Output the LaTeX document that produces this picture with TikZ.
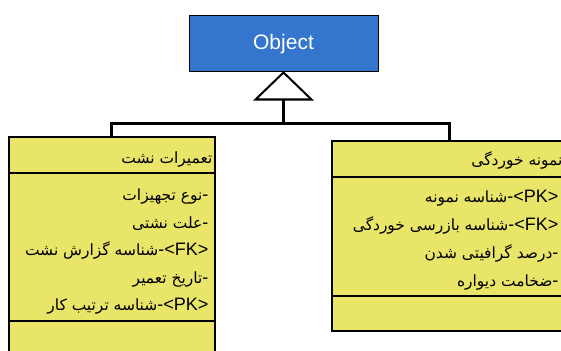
\documentclass[tikz,border=0pt]{standalone}
\usepackage{fontspec}
\setmainfont{Liberation Sans}
\newfontfamily\arabicfont[Script=Arabic,Scale=0.86]{DejaVu Sans}
\TeXXeTstate=1
\usetikzlibrary{calc}
\definecolor{objblue}{RGB}{52,118,206}
\definecolor{classyellow}{RGB}{232,229,104}
\newcommand{\fa}[1]{{\arabicfont #1}}

\begin{document}
\begin{tikzpicture}[x=1pt,y=-1pt]
\tikzset{classbox/.style={fill=classyellow,draw=black,line width=1.6pt,inner sep=0pt,anchor=north west}}
\tikzset{link/.style={draw=black,line width=3pt}}
\tikzset{sep/.style={draw=black,line width=1.6pt}}
\tikzset{attr/.style={anchor=base east,inner sep=0pt,font=\fontsize{18}{21}\selectfont}}
\useasboundingbox (0,0) rectangle (561,350);
\clip (0,0) rectangle (561,350);

% base class and the open arrow head under it
\node[fill=objblue,draw=black,line width=1pt,minimum width=189pt,minimum height=56pt,
      text=white,font=\fontsize{21}{25}\selectfont] (obj) at (283.5,44) {Object};
\draw[fill=white,line width=2pt] (obj.south) -- ++(-28,27) -- ++(56,0) -- cycle;
\coordinate (tri) at ($(obj.south)+(0,27)$);
\coordinate (bus) at (283.5,123);

% subclasses
\node[classbox,minimum width=206pt,minimum height=240pt] (nasht) at (8,136) {};
\node[classbox,minimum width=235pt,minimum height=190pt] (khord) at (331,140) {};
\draw[sep] ($(nasht.north west)+(0,37)$) -- ($(nasht.north east)+(0,37)$);
\draw[sep] ($(nasht.north west)+(0,185)$) -- ($(nasht.north east)+(0,185)$);
\draw[sep] ($(khord.north west)+(0,37)$) -- ($(khord.north east)+(0,37)$);
\draw[sep] ($(khord.north west)+(0,156)$) -- ($(khord.north east)+(0,156)$);

\draw[link] (tri) -- (bus);
\draw[link] (nasht.north) |- (bus) -| (khord.north);

% left class
\node[attr] (nasht-t) at ($(nasht.north east)+(-3,27)$) {\beginR\fa{تعمیرات نشت}\endR};
\node[attr] (nasht-1) at ($(nasht.north east)+(-7,64.5)$) {\beginR-\fa{نوع تجهیزات}\endR};
\node[attr] (nasht-2) at ($(nasht.north east)+(-7,92)$) {\beginR-\fa{علت نشتی}\endR};
\node[attr] (nasht-3) at ($(nasht.north east)+(-7,119.5)$) {\beginR\beginL<FK>\endL-\fa{شناسه گزارش نشت}\endR};
\node[attr] (nasht-4) at ($(nasht.north east)+(-7,147)$) {\beginR-\fa{تاریخ تعمیر}\endR};
\node[attr] (nasht-5) at ($(nasht.north east)+(-7,174.5)$) {\beginR\beginL<PK>\endL-\fa{شناسه ترتیب کار}\endR};

% right class
\node[attr] (khord-t) at ($(khord.north east)+(-5,25)$) {\beginR\fa{نمونه خوردگی}\endR};
\node[attr] (khord-1) at ($(khord.north east)+(-9,62)$) {\beginR\beginL<PK>\endL-\fa{شناسه نمونه}\endR};
\node[attr] (khord-2) at ($(khord.north east)+(-9,90)$) {\beginR\beginL<FK>\endL-\fa{شناسه بازرسی خوردگی}\endR};
\node[attr] (khord-3) at ($(khord.north east)+(-9,118)$) {\beginR-\fa{درصد گرافیتی شدن}\endR};
\node[attr] (khord-4) at ($(khord.north east)+(-9,146)$) {\beginR-\fa{ضخامت دیواره}\endR};
\end{tikzpicture}
\end{document}
